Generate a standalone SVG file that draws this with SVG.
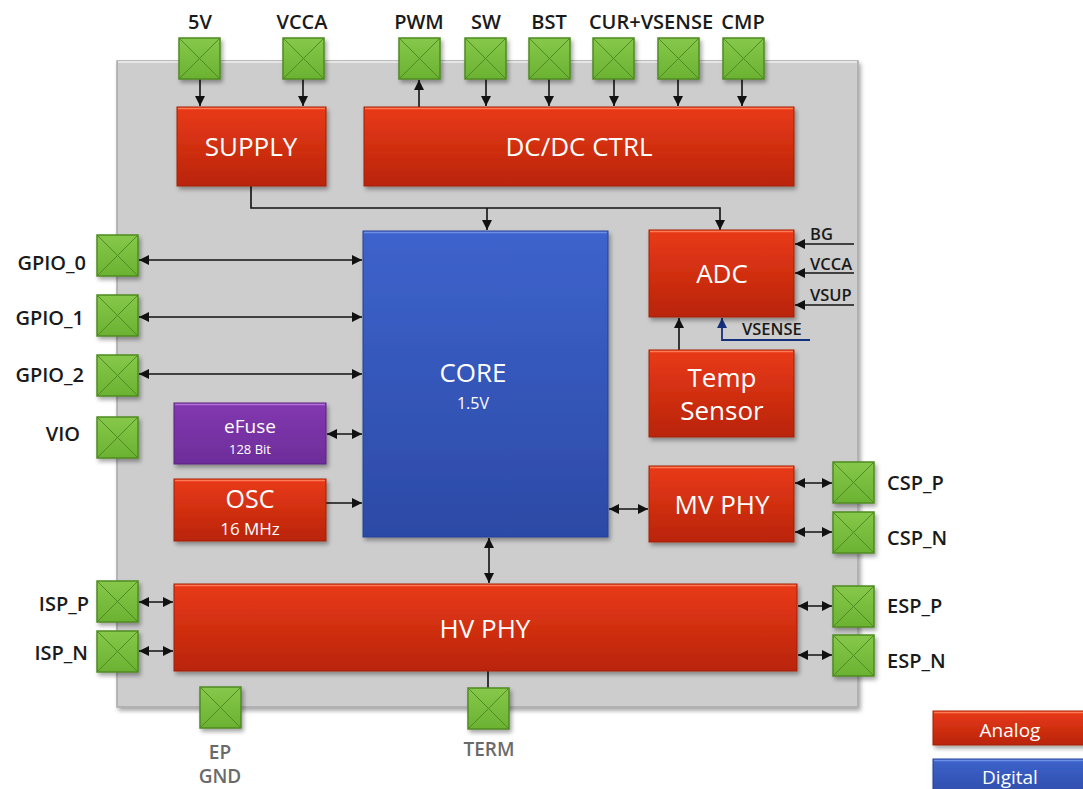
<svg xmlns="http://www.w3.org/2000/svg" width="1083" height="789" viewBox="0 0 1083 789">
<defs>
<linearGradient id="gRed" x1="0" y1="0" x2="0" y2="1"><stop offset="0" stop-color="#e93a16"/><stop offset="1" stop-color="#b9240c"/></linearGradient>
<linearGradient id="gBlue" x1="0" y1="0" x2="0" y2="1"><stop offset="0" stop-color="#3d63cc"/><stop offset="1" stop-color="#2c4aa6"/></linearGradient>
<linearGradient id="gPur" x1="0" y1="0" x2="0" y2="1"><stop offset="0" stop-color="#8338b0"/><stop offset="1" stop-color="#6d2d9a"/></linearGradient>
<linearGradient id="gGrn" x1="0" y1="0" x2="0" y2="1"><stop offset="0" stop-color="#86c84a"/><stop offset="1" stop-color="#6bb232"/></linearGradient>
<filter id="sh" x="-10%" y="-10%" width="130%" height="130%"><feDropShadow dx="2" dy="3" stdDeviation="2" flood-color="#000" flood-opacity="0.35"/></filter>
<marker id="ah" viewBox="0 0 10 10" markerWidth="11" markerHeight="10" refX="10" refY="5" orient="auto-start-reverse" markerUnits="userSpaceOnUse"><path d="M0,0 L10,5 L0,10 z" fill="#111"/></marker>
<marker id="ahb" viewBox="0 0 10 10" markerWidth="11" markerHeight="10" refX="10" refY="5" orient="auto-start-reverse" markerUnits="userSpaceOnUse"><path d="M0,0 L10,5 L0,10 z" fill="#13307a"/></marker>
<g id="pad"><rect x="0" y="0" width="41" height="41" fill="url(#gGrn)" stroke="#4f8a22" stroke-width="1.5"/><path d="M0,0 L41,41 M41,0 L0,41" stroke="#4f8a22" stroke-width="1"/></g>
</defs>
<style>
.red{fill:url(#gRed);stroke:#a31f0a;stroke-width:1;filter:url(#sh)}
.blue{fill:url(#gBlue);stroke:#244096;stroke-width:1;filter:url(#sh)}
.pur{fill:url(#gPur);stroke:#5a2480;stroke-width:1;filter:url(#sh)}
.hl{stroke:#ff7a55;stroke-width:1.5;fill:none}
.hlb{stroke:#6b8ee6;stroke-width:1.5;fill:none}
.hlp{stroke:#b070d8;stroke-width:1.5;fill:none}
.bt{font-family:"Open Sans","Noto Sans",sans-serif;fill:#fff;text-anchor:middle}
.lb{font-family:"Open Sans","Noto Sans",sans-serif;font-weight:600;font-size:20px;fill:#1a1a1a}
.gl{font-family:"Open Sans","Noto Sans",sans-serif;font-weight:600;font-size:19px;fill:#6a6a6a;text-anchor:middle}
.sl{font-family:"Open Sans","Noto Sans",sans-serif;font-weight:600;font-size:16.5px;fill:#1a1a1a}
.c{stroke:#111;stroke-width:1.6;fill:none}
.cb{stroke:#13307a;stroke-width:1.8;fill:none}
.pd{filter:url(#sh)}
</style>
<rect width="1083" height="789" fill="#fff"/>
<g id="chip">
<rect x="117" y="61" width="741" height="646" fill="#cdcdcd" stroke="#a8a8a8" stroke-width="1.5" filter="url(#sh)"/>
<path d="M118,62 H857" stroke="#e6e6e6" stroke-width="2"/>
</g>

<g id="connectors">
<path class="c" d="M200,79 V106" marker-end="url(#ah)"/>
<path class="c" d="M303,79 V106" marker-end="url(#ah)"/>
<path class="c" d="M419,107 V80" marker-end="url(#ah)"/>
<path class="c" d="M486,79 V106" marker-end="url(#ah)"/>
<path class="c" d="M549,79 V106" marker-end="url(#ah)"/>
<path class="c" d="M614,79 V106" marker-end="url(#ah)"/>
<path class="c" d="M678,79 V106" marker-end="url(#ah)"/>
<path class="c" d="M742,79 V106" marker-end="url(#ah)"/>
<path class="c" d="M251,186 V208 H720 V230" marker-end="url(#ah)"/>
<path class="c" d="M487,208 V230" marker-end="url(#ah)"/>
<path class="c" d="M139,260 H362" marker-start="url(#ah)" marker-end="url(#ah)"/>
<path class="c" d="M139,317 H362" marker-start="url(#ah)" marker-end="url(#ah)"/>
<path class="c" d="M139,374 H362" marker-start="url(#ah)" marker-end="url(#ah)"/>
<path class="c" d="M327,434 H362" marker-start="url(#ah)" marker-end="url(#ah)"/>
<path class="c" d="M326,503 H362" marker-end="url(#ah)"/>
<path class="c" d="M609,509 H648" marker-start="url(#ah)" marker-end="url(#ah)"/>
<path class="c" d="M795,483 H832" marker-start="url(#ah)" marker-end="url(#ah)"/>
<path class="c" d="M795,532 H832" marker-start="url(#ah)" marker-end="url(#ah)"/>
<path class="c" d="M798,606 H832" marker-start="url(#ah)" marker-end="url(#ah)"/>
<path class="c" d="M798,655 H832" marker-start="url(#ah)" marker-end="url(#ah)"/>
<path class="c" d="M139,602 H173" marker-start="url(#ah)" marker-end="url(#ah)"/>
<path class="c" d="M139,651 H173" marker-start="url(#ah)" marker-end="url(#ah)"/>
<path class="c" d="M489,538 V583" marker-start="url(#ah)" marker-end="url(#ah)"/>
<path class="c" d="M488,671 V688"/>
<path class="c" d="M854,244 H795" marker-end="url(#ah)"/>
<path class="c" d="M854,273 H795" marker-end="url(#ah)"/>
<path class="c" d="M854,305 H795" marker-end="url(#ah)"/>
<path class="cb" d="M810,340 H722 V318" marker-end="url(#ahb)"/>
<path class="c" d="M679,350 V318" marker-end="url(#ah)"/>
</g>

<g id="supply"><rect class="red" x="177" y="107" width="149" height="79"/><path class="hl" d="M178,108.5 H325"/><text class="bt" x="251" y="156" font-size="26">SUPPLY</text></g>
<g id="dcdc"><rect class="red" x="364" y="107" width="430" height="79"/><path class="hl" d="M365,108.5 H793"/><text class="bt" x="579" y="156" font-size="26">DC/DC CTRL</text></g>
<g id="core"><rect class="blue" x="363" y="231" width="245" height="306"/><path class="hlb" d="M364,232.5 H607"/><text class="bt" x="473" y="382" font-size="26">CORE</text><text class="bt" x="473" y="409" font-size="16">1.5V</text></g>
<g id="adc"><rect class="red" x="649" y="230" width="145" height="87"/><path class="hl" d="M650,231.5 H793"/><text class="bt" x="722" y="283" font-size="26">ADC</text>
<text class="sl" x="810" y="240">BG</text><text class="sl" x="810" y="270">VCCA</text><text class="sl" x="810" y="301">VSUP</text><text class="sl" x="742" y="335">VSENSE</text></g>
<g id="temp"><rect class="red" x="649" y="350" width="145" height="87"/><path class="hl" d="M650,351.5 H793"/><text class="bt" x="722" y="387" font-size="26">Temp</text><text class="bt" x="722" y="420" font-size="26">Sensor</text></g>
<g id="efuse"><rect class="pur" x="174" y="403" width="152" height="61"/><path class="hlp" d="M175,404.5 H325"/><text class="bt" x="250" y="433" font-size="19">eFuse</text><text class="bt" x="250" y="454" font-size="13">128 Bit</text></g>
<g id="osc"><rect class="red" x="174" y="479" width="152" height="62"/><path class="hl" d="M175,480.5 H325"/><text class="bt" x="250" y="508" font-size="25">OSC</text><text class="bt" x="250" y="535" font-size="17">16 MHz</text></g>
<g id="mvphy"><rect class="red" x="649" y="466" width="145" height="76"/><path class="hl" d="M650,467.5 H793"/><text class="bt" x="722" y="514" font-size="26">MV PHY</text></g>
<g id="hvphy"><rect class="red" x="174" y="584" width="623" height="87"/><path class="hl" d="M175,585.5 H796"/><text class="bt" x="485" y="638" font-size="26">HV PHY</text></g>

<g id="pad-5v"><use href="#pad" x="179" y="38" class="pd"/><text class="lb" x="200" y="29" text-anchor="middle">5V</text></g>
<g id="pad-vcca"><use href="#pad" x="283" y="38" class="pd"/><text class="lb" x="302" y="29" text-anchor="middle">VCCA</text></g>
<g id="pad-pwm"><use href="#pad" x="399" y="38" class="pd"/><text class="lb" x="419" y="29" text-anchor="middle">PWM</text></g>
<g id="pad-sw"><use href="#pad" x="465" y="38" class="pd"/><text class="lb" x="486" y="29" text-anchor="middle">SW</text></g>
<g id="pad-bst"><use href="#pad" x="529" y="38" class="pd"/><text class="lb" x="549" y="29" text-anchor="middle">BST</text></g>
<g id="pad-cur"><use href="#pad" x="593" y="38" class="pd"/><text class="lb" x="651" y="29" text-anchor="middle">CUR+VSENSE</text></g>
<g id="pad-vsense"><use href="#pad" x="658" y="38" class="pd"/></g>
<g id="pad-cmp"><use href="#pad" x="723" y="38" class="pd"/><text class="lb" x="743" y="29" text-anchor="middle">CMP</text></g>
<g id="pad-gpio0"><use href="#pad" x="97" y="235" class="pd"/><text class="lb" x="86" y="270" text-anchor="end">GPIO_0</text></g>
<g id="pad-gpio1"><use href="#pad" x="97" y="295" class="pd"/><text class="lb" x="84" y="325" text-anchor="end">GPIO_1</text></g>
<g id="pad-gpio2"><use href="#pad" x="97" y="355" class="pd"/><text class="lb" x="84" y="382" text-anchor="end">GPIO_2</text></g>
<g id="pad-vio"><use href="#pad" x="97" y="417" class="pd"/><text class="lb" x="80" y="441" text-anchor="end">VIO</text></g>
<g id="pad-ispp"><use href="#pad" x="97" y="581" class="pd"/><text class="lb" x="89" y="611" text-anchor="end">ISP_P</text></g>
<g id="pad-ispn"><use href="#pad" x="97" y="631" class="pd"/><text class="lb" x="88" y="660" text-anchor="end">ISP_N</text></g>
<g id="pad-cspp"><use href="#pad" x="833" y="462" class="pd"/><text class="lb" x="887" y="490">CSP_P</text></g>
<g id="pad-cspn"><use href="#pad" x="833" y="512" class="pd"/><text class="lb" x="887" y="545">CSP_N</text></g>
<g id="pad-espp"><use href="#pad" x="833" y="586" class="pd"/><text class="lb" x="887" y="613">ESP_P</text></g>
<g id="pad-espn"><use href="#pad" x="833" y="635" class="pd"/><text class="lb" x="887" y="668">ESP_N</text></g>
<g id="pad-ep"><use href="#pad" x="200" y="687" class="pd"/><text class="gl" x="220" y="759">EP</text><text class="gl" x="220" y="783">GND</text></g>
<g id="pad-term"><use href="#pad" x="468" y="688" class="pd"/><text class="gl" x="489" y="756">TERM</text></g>

<g id="legend-analog"><rect class="red" x="933" y="711" width="155" height="34"/><path class="hl" d="M934,712.5 H1083"/><text class="bt" x="1010" y="737" font-size="19">Analog</text></g>
<g id="legend-digital"><rect class="blue" x="933" y="759" width="155" height="40"/><path class="hlb" d="M934,760.5 H1083"/><text class="bt" x="1010" y="784" font-size="19">Digital</text></g>
</svg>
